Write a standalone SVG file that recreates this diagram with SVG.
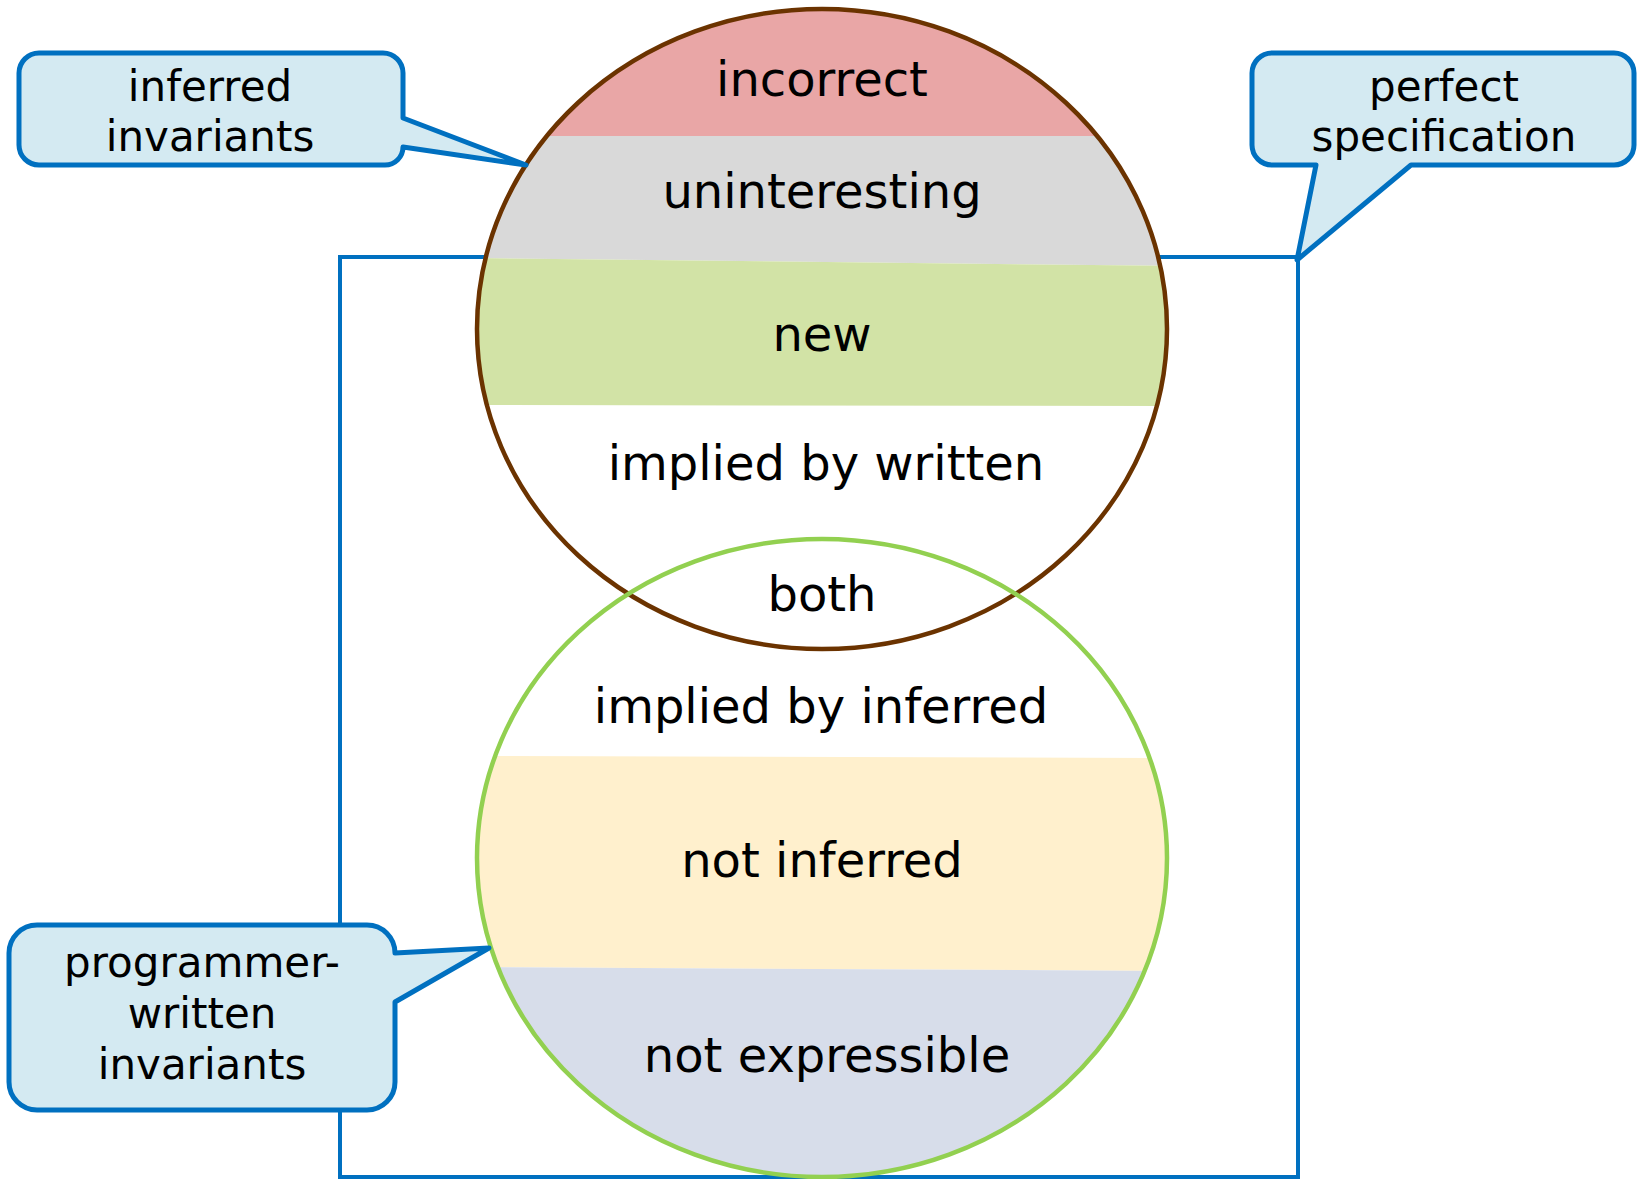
<svg xmlns="http://www.w3.org/2000/svg" width="1637" height="1179" viewBox="0 0 1637 1179">
  <style>
    .lbl { font-family: "DejaVu Sans", Verdana, sans-serif; font-size: 48px; fill: #000; text-anchor: middle; }
    .co { font-family: "DejaVu Sans", Verdana, sans-serif; font-size: 42px; fill: #000; text-anchor: middle; }
    .callout { fill: #D4EAF2; stroke: #0070C0; stroke-width: 5; stroke-linejoin: round; }
    .frame { fill: none; stroke: #0070C0; stroke-width: 4; }
  </style>
  <defs>
    <clipPath id="clipInferred"><ellipse cx="822" cy="329" rx="345" ry="320"/></clipPath>
    <clipPath id="clipWritten"><ellipse cx="822" cy="858" rx="345" ry="319"/></clipPath>
  </defs>
  <rect width="1637" height="1179" fill="#fff"/>

  <!-- perfect specification frame -->
  <g id="frame">
    <rect class="frame" x="340" y="257" width="958" height="920"/>
  </g>

  <!-- inferred invariants set -->
  <g id="inferred-set">
    <g clip-path="url(#clipInferred)">
      <rect x="470" y="0" width="710" height="660" fill="#fff"/>
      <rect x="470" y="0" width="710" height="136" fill="#E9A6A6"/>
      <polygon points="470,136 1180,136 1180,266 470,258" fill="#D9D9D9"/>
      <polygon points="470,258 1180,266 1180,406 470,405" fill="#D2E3A6"/>
    </g>
  </g>

  <!-- programmer-written invariants set -->
  <g id="written-set">
    <g clip-path="url(#clipWritten)">
      <rect x="470" y="530" width="710" height="660" fill="#fff"/>
      <polygon points="470,756 1180,758 1180,971 470,967" fill="#FFF0CD"/>
      <polygon points="470,967 1180,971 1180,1190 470,1190" fill="#D7DDEA"/>
    </g>
  </g>

  <!-- set outlines -->
  <g id="outlines" fill="none" stroke-width="4.5">
    <ellipse cx="822" cy="329" rx="345" ry="320" stroke="#6B3300"/>
    <ellipse cx="822" cy="858" rx="345" ry="319" stroke="#92D050"/>
  </g>

  <!-- region labels -->
  <g id="labels">
    <text class="lbl" x="822" y="96">incorrect</text>
    <text class="lbl" x="822" y="208">uninteresting</text>
    <text class="lbl" x="822" y="351">new</text>
    <text class="lbl" x="826" y="480">implied by written</text>
    <text class="lbl" x="822" y="611">both</text>
    <text class="lbl" x="821" y="723">implied by inferred</text>
    <text class="lbl" x="822" y="877">not inferred</text>
    <text class="lbl" x="827" y="1072">not expressible</text>
  </g>

  <!-- callouts -->
  <g id="callout-inferred">
    <path class="callout" d="M39,53 H383 A20,20 0 0 1 403,73 V118 L526,165 L403,147 A18,18 0 0 1 385,165 H39 A20,20 0 0 1 19,145 V73 A20,20 0 0 1 39,53 Z"/>
    <text class="co" x="210" y="101">inferred</text>
    <text class="co" x="210" y="151">invariants</text>
  </g>
  <g id="callout-perfect">
    <path class="callout" d="M1272,53 H1614 A20,20 0 0 1 1634,73 V145 A20,20 0 0 1 1614,165 H1411 L1297,260 L1316,165 H1272 A20,20 0 0 1 1252,145 V73 A20,20 0 0 1 1272,53 Z"/>
    <text class="co" x="1444" y="101">perfect</text>
    <text class="co" x="1444" y="151">specification</text>
  </g>
  <g id="callout-written">
    <path class="callout" d="M37,925 H367 A28,28 0 0 1 395,953 L489,948 L395,1002 V1082 A28,28 0 0 1 367,1110 H37 A28,28 0 0 1 9,1082 V953 A28,28 0 0 1 37,925 Z"/>
    <text class="co" x="202" y="977">programmer-</text>
    <text class="co" x="202" y="1028">written</text>
    <text class="co" x="202" y="1079">invariants</text>
  </g>
</svg>
